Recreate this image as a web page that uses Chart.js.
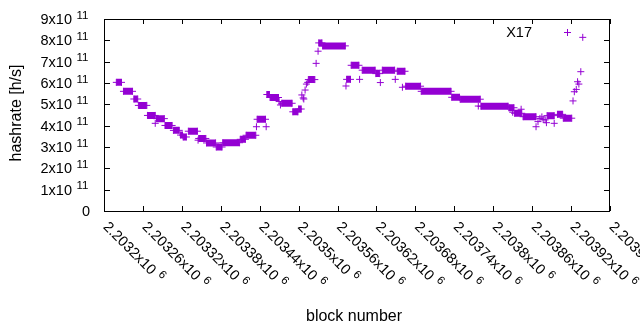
<!DOCTYPE html>
<html>
<head>
<meta charset="utf-8">
<script src="https://cdn.jsdelivr.net/npm/chart.js@4/dist/chart.umd.min.js"></script>
<style>
  html, body { margin: 0; padding: 0; background: #fff; }
  canvas { display: block; }
</style>
</head>
<body>
<canvas id="hashChart" width="640" height="330"></canvas>
<script>
// runs of blocks with the same hashrate (start block, end block, h/s)
var segStart = [2203219, 2203230, 2203246, 2203253, 2203267, 2203281, 2203294, 2203307, 2203318, 2203322,
                2203330, 2203346, 2203358, 2203373, 2203383, 2203410, 2203419, 2203436, 2203451, 2203456,
                2203474, 2203491, 2203500, 2203515, 2203531, 2203537, 2203574, 2203581, 2203598, 2203619,
                2203629, 2203652, 2203665, 2203689, 2203736, 2203749, 2203781, 2203824, 2203833, 2203846,
                2203883, 2203899, 2203908];
var segEnd   = [2203227, 2203244, 2203252, 2203266, 2203279, 2203293, 2203305, 2203316, 2203321, 2203327,
                2203344, 2203357, 2203372, 2203382, 2203409, 2203418, 2203434, 2203449, 2203455, 2203469,
                2203490, 2203499, 2203504, 2203525, 2203536, 2203572, 2203580, 2203593, 2203618, 2203625,
                2203648, 2203664, 2203688, 2203735, 2203748, 2203780, 2203823, 2203832, 2203844, 2203866,
                2203894, 2203907, 2203921];
var segRate  = [6.03e11, 5.61e11, 5.25e11, 4.95e11, 4.48e11, 4.33e11, 4.01e11, 3.78e11, 3.56e11, 3.47e11,
                3.74e11, 3.40e11, 3.19e11, 3.00e11, 3.20e11, 3.36e11, 3.55e11, 4.30e11, 5.46e11, 5.32e11,
                5.05e11, 4.65e11, 4.78e11, 6.16e11, 7.88e11, 7.74e11, 6.17e11, 6.83e11, 6.60e11, 6.44e11,
                6.60e11, 6.55e11, 5.85e11, 5.61e11, 5.33e11, 5.24e11, 4.91e11, 4.84e11, 4.58e11, 4.42e11,
                4.47e11, 4.53e11, 4.35e11];

// single blocks that stand apart
var oneBlock = [2203279, 2203345, 2203435, 2203450, 2203470, 2203472, 2203505, 2203507, 2203508, 2203510,
                2203512, 2203514, 2203527, 2203530, 2203573, 2203594, 2203626, 2203649, 2203660, 2203777,
                2203830, 2203843, 2203866, 2203869, 2203872, 2203875, 2203877, 2203880, 2203882, 2203894,
                2203923, 2203925, 2203928, 2203930, 2203932, 2203935, 2203938];
var oneRate  = [4.11e11, 3.32e11, 3.95e11, 3.95e11, 5.13e11, 4.97e11, 5.44e11, 5.30e11, 5.25e11, 5.67e11,
                5.95e11, 6.03e11, 6.92e11, 7.49e11, 5.86e11, 6.17e11, 6.02e11, 6.17e11, 5.80e11, 4.92e11,
                4.63e11, 4.77e11, 3.95e11, 4.19e11, 4.34e11, 4.41e11, 4.30e11, 4.27e11, 4.14e11, 4.11e11,
                5.16e11, 5.59e11, 5.70e11, 6.06e11, 5.95e11, 6.53e11, 8.14e11];

var xTicks = [2203200, 2203260, 2203320, 2203380, 2203440, 2203500, 2203560, 2203620,
              2203680, 2203740, 2203800, 2203860, 2203920, 2203980];
var xTickLabels = ['2.2032', '2.20326', '2.20332', '2.20338', '2.20344', '2.2035', '2.20356', '2.20362',
                   '2.20368', '2.20374', '2.2038', '2.20386', '2.20392', '2.20398'];
var yTicks = [0, 1e11, 2e11, 3e11, 4e11, 5e11, 6e11, 7e11, 8e11, 9e11];
var yTickLabels = ['0', '1', '2', '3', '4', '5', '6', '7', '8', '9'];

var seriesName = 'X17';
var purple = '#9400d3';
var fontName = '"Liberation Sans", Arial, sans-serif';

// line data with gaps between the runs
var runPoints = [];
for (var i = 0; i < segStart.length; i++) {
    runPoints.push({ x: segStart[i], y: segRate[i] });
    runPoints.push({ x: segEnd[i], y: segRate[i] });
    runPoints.push({ x: segEnd[i], y: null });
}
var singlePoints = oneBlock.map(function (b, i) { return { x: b, y: oneRate[i] }; });

// axes, ticks and labels drawn gnuplot style
var gnuplotFrame = {
    id: 'gnuplotFrame',
    afterDatasetsDraw: function (chart) {
        var ctx = chart.ctx;
        var a = chart.chartArea;
        var xs = chart.scales.x, ys = chart.scales.y;
        ctx.save();
        ctx.strokeStyle = '#000';
        ctx.lineWidth = 1;
        ctx.beginPath();
        yTicks.forEach(function (v) {
            var py = Math.round(ys.getPixelForValue(v)) + 0.5;
            ctx.moveTo(a.left, py); ctx.lineTo(a.left + 6, py);
            ctx.moveTo(a.right, py); ctx.lineTo(a.right - 6, py);
        });
        xTicks.forEach(function (v) {
            var px = Math.round(xs.getPixelForValue(v)) + 0.5;
            ctx.moveTo(px, a.bottom); ctx.lineTo(px, a.bottom - 5);
            ctx.moveTo(px, a.top); ctx.lineTo(px, a.top + 5);
        });
        ctx.stroke();
        ctx.strokeRect(a.left + 0.5, a.top + 0.5, a.right - a.left - 1, a.bottom - a.top);
        ctx.restore();
    },
    afterDraw: function (chart) {
        var ctx = chart.ctx;
        var a = chart.chartArea;
        var xs = chart.scales.x, ys = chart.scales.y;
        ctx.save();
        ctx.fillStyle = '#000';

        // y tick labels  Nx10^11
        yTicks.forEach(function (v, i) {
            var py = ys.getPixelForValue(v);
            ctx.font = '14.5px ' + fontName;
            ctx.textBaseline = 'alphabetic';
            if (v === 0) {
                ctx.textAlign = 'right';
                ctx.fillText('0', 90, py + 5);
                return;
            }
            ctx.textAlign = 'right';
            ctx.fillText(yTickLabels[i] + 'x10', 72, py + 5);
            ctx.textAlign = 'left';
            ctx.font = '11.5px ' + fontName;
            ctx.fillText('11', 76.5, py - 0.5);
        });

        // x tick labels rotated down to the right
        xTicks.forEach(function (v, i) {
            var px = xs.getPixelForValue(v);
            ctx.save();
            ctx.translate(px - 1.5, a.bottom + 16.5);
            ctx.rotate(Math.PI / 4);
            ctx.textAlign = 'left';
            ctx.textBaseline = 'alphabetic';
            ctx.font = '14.5px ' + fontName;
            var base = xTickLabels[i] + 'x10';
            ctx.fillText(base, 0, 0);
            var w = ctx.measureText(base).width;
            ctx.font = '11.5px ' + fontName;
            ctx.fillText('6', w + 5, -5.5);
            ctx.restore();
        });

        // axis titles
        ctx.font = '16px ' + fontName;
        ctx.textAlign = 'center';
        ctx.textBaseline = 'middle';
        ctx.save();
        ctx.translate(17, 113);
        ctx.rotate(-Math.PI / 2);
        ctx.fillText('hashrate [h/s]', 0, 0);
        ctx.restore();
        ctx.textBaseline = 'alphabetic';
        ctx.fillText('block number', 354, 321);

        // key
        ctx.font = '14.5px ' + fontName;
        ctx.textAlign = 'right';
        ctx.fillText(seriesName, 532, 37);
        ctx.strokeStyle = purple;
        ctx.lineWidth = 1;
        ctx.beginPath();
        ctx.moveTo(564, 32.5); ctx.lineTo(571, 32.5);
        ctx.moveTo(567.5, 29); ctx.lineTo(567.5, 36);
        ctx.stroke();
        ctx.restore();
    }
};

var ctx = document.getElementById('hashChart').getContext('2d');
var hashChart = new Chart(ctx, {
    type: 'line',
    data: {
        datasets: [{
            label: seriesName,
            data: runPoints,
            borderColor: purple,
            backgroundColor: purple,
            borderWidth: 7,
            borderCapStyle: 'butt',
            spanGaps: false,
            pointStyle: 'cross',
            pointRadius: 3.5,
            pointBorderWidth: 1,
            pointBorderColor: purple,
            tension: 0
        }, {
            label: seriesName + ' single',
            data: singlePoints,
            showLine: false,
            pointStyle: 'cross',
            pointRadius: 3.5,
            pointBorderWidth: 1,
            pointBorderColor: purple,
            borderColor: purple,
            backgroundColor: purple
        }]
    },
    options: {
        responsive: false,
        animation: false,
        devicePixelRatio: 1,
        layout: { padding: { left: 104, right: 30, top: 19, bottom: 119 } },
        plugins: {
            legend: { display: false },
            tooltip: { enabled: false }
        },
        scales: {
            x: { type: 'linear', min: 2203200, max: 2203980, display: false },
            y: { type: 'linear', min: 0, max: 9e11, display: false }
        }
    },
    plugins: [gnuplotFrame]
});
</script>
</body>
</html>
